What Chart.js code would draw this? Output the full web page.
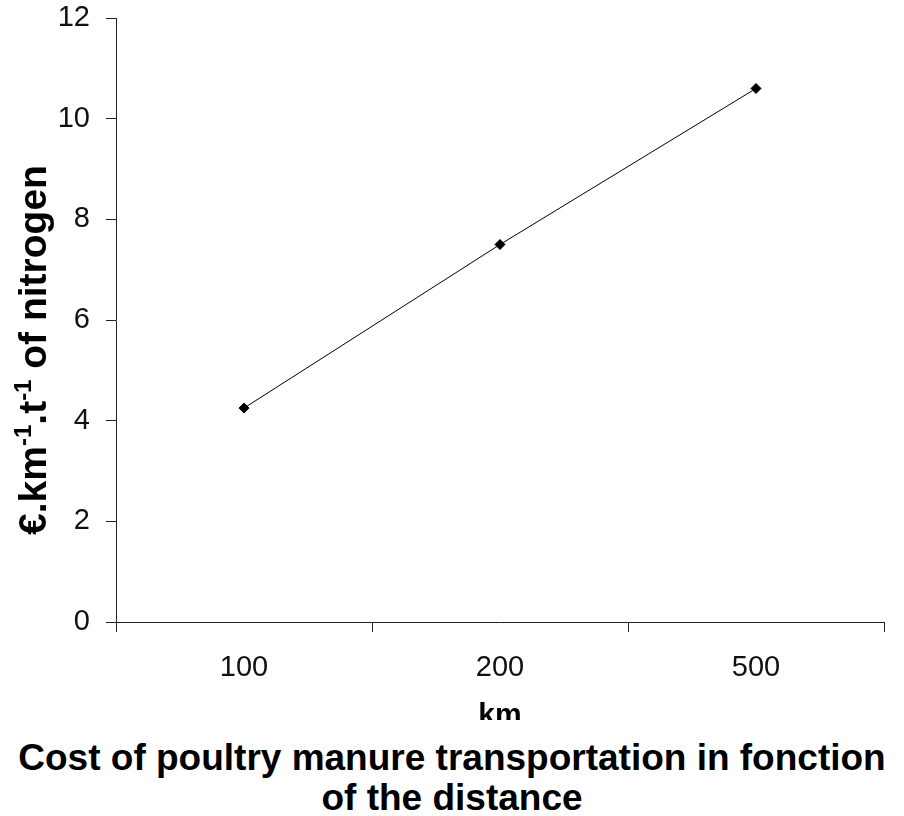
<!DOCTYPE html>
<html>
<head>
<meta charset="utf-8">
<script src="https://cdn.jsdelivr.net/npm/chart.js@4/dist/chart.umd.min.js"></script>
<style>
  html, body { margin: 0; padding: 0; background: #fff; }
  #wrap { width: 904px; height: 720px; overflow: hidden; }
  #caption {
    width: 904px; text-align: center; margin-top: 18px;
    font: bold 37px "Liberation Sans", Arial, sans-serif; line-height: 40px; color: #000;
  }
</style>
</head>
<body>
<div id="wrap"><canvas id="chart" width="904" height="740"></canvas></div>
<div id="caption">Cost of poultry manure transportation in fonction<br>of the distance</div>
<script>
// distance categories (km) and cost per km per tonne of nitrogen
const distances = ['100', '200', '500'];
const costs = [4.25, 7.5, 10.6];
const yTicks = [0, 2, 4, 6, 8, 10, 12];

// y title pieces: [text, superscript?]
const yTitleParts = [['€.km', false], ['-1', true], ['.t', false], ['-1', true], [' of nitrogen', false]];

const FONT = '"Liberation Sans", Arial, sans-serif';
const axisColor = '#222';
const tickFont = { family: FONT, size: 29 };

// draws the rotated y axis title with real superscripts
const yTitlePlugin = {
    id: 'yTitle',
    afterDraw(chart) {
        const c = chart.ctx;
        const area = chart.chartArea;
        const big = 'bold 39px ' + FONT;
        const small = 'bold 24px ' + FONT;
        let total = 0;
        yTitleParts.forEach(p => { c.font = p[1] ? small : big; total += c.measureText(p[0]).width; });
        c.save();
        c.translate(46, (area.top + area.bottom) / 2 + 30);
        c.rotate(-Math.PI / 2);
        c.fillStyle = '#000';
        c.textBaseline = 'alphabetic';
        let x = -total / 2;
        yTitleParts.forEach(p => {
            c.font = p[1] ? small : big;
            c.fillText(p[0], x, p[1] ? -15 : 0);
            x += c.measureText(p[0]).width;
        });
        c.restore();
    }
};

const ctx = document.getElementById('chart').getContext('2d');
new Chart(ctx, {
    type: 'line',
    data: {
        labels: distances,
        datasets: [{
            data: costs,
            borderColor: '#000',
            borderWidth: 1,
            pointStyle: 'rectRot',
            pointRadius: 5,
            pointBackgroundColor: '#000',
            pointBorderColor: '#000',
            tension: 0
        }]
    },
    plugins: [yTitlePlugin],
    options: {
        responsive: false,
        animation: false,
        layout: { padding: { top: 18, right: 20, left: 0, bottom: 0 } },
        plugins: { legend: { display: false }, tooltip: { enabled: false } },
        scales: {
            x: {
                type: 'category',
                offset: true,
                grid: { offset: true, drawOnChartArea: false, tickLength: 10, color: axisColor },
                border: { color: axisColor },
                ticks: { font: tickFont, color: '#111', padding: 19, maxRotation: 0 },
                title: {
                    display: true, text: 'km', color: '#000',
                    font: { family: FONT, size: 30, weight: 'bold' },
                    padding: { top: 0, bottom: 6 }
                },
                afterFit: (s) => { s.height = 118; s.paddingLeft = 0; s.paddingRight = 0; }
            },
            y: {
                min: 0, max: 12,
                afterBuildTicks: (s) => { s.ticks = yTicks.map(v => ({ value: v })); },
                grid: { drawOnChartArea: false, tickLength: 10, color: axisColor },
                border: { color: axisColor },
                ticks: { font: tickFont, color: '#111', padding: 16 },
                afterFit: (s) => { s.width = 116; s.paddingTop = 0; s.paddingBottom = 0; }
            }
        }
    }
});
</script>
</body>
</html>
